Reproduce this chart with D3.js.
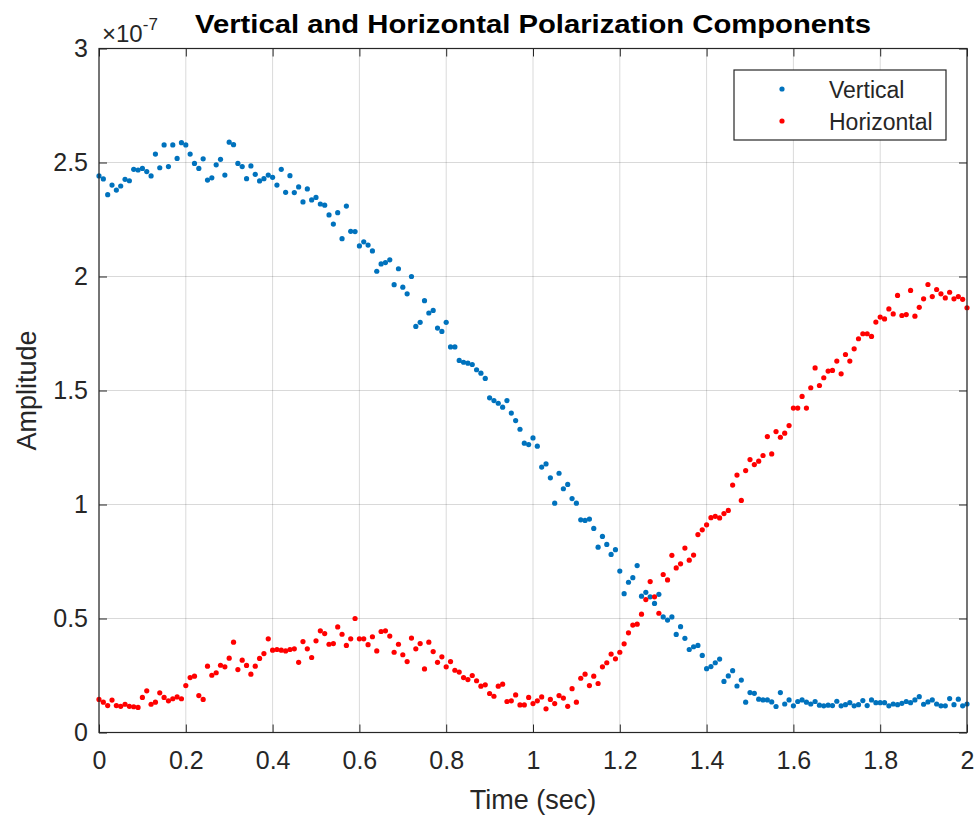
<!DOCTYPE html>
<html>
<head>
<meta charset="utf-8">
<script src="https://cdn.jsdelivr.net/npm/d3@7"></script>
<style>
    body { margin: 0; background: #fff; }
    text { font-family: "Liberation Sans", Arial, Helvetica, sans-serif; fill: #262626; }
    .grid line { stroke: #000; stroke-opacity: 0.15; stroke-width: 1; }
    .tick-label { font-size: 25px; }
    .axis-label { font-size: 27px; }
    .title { font-size: 26px; font-weight: bold; fill: #000; }
    .legend-label { font-size: 23px; }
</style>
</head>
<body>
<script>
// ============================================================
// Vertical and Horizontal Polarization Components
// MATLAB style scatter of two series sampled every 0.01 s
// Amplitudes are given in units of 1e-7
// ============================================================

// sample times 0 .. 2 s, step 0.01
var timeSec = d3.range(0, 201).map(function(i) { return i / 100; });

var vertical = [
    2.441, 2.428, 2.359, 2.401, 2.379, 2.397, 2.426, 2.420, 2.470, 2.467,
    2.474, 2.460, 2.441, 2.537, 2.477, 2.577, 2.482, 2.577, 2.518, 2.587,
    2.577, 2.537, 2.496, 2.474, 2.516, 2.423, 2.433, 2.490, 2.514, 2.445,
    2.589, 2.578, 2.496, 2.482, 2.429, 2.485, 2.448, 2.419, 2.429, 2.445,
    2.435, 2.401, 2.470, 2.369, 2.442, 2.368, 2.393, 2.327, 2.384, 2.336,
    2.347, 2.318, 2.313, 2.270, 2.230, 2.280, 2.166, 2.309, 2.198, 2.197,
    2.134, 2.152, 2.138, 2.112, 2.023, 2.055, 2.061, 2.073, 1.964, 2.034,
    1.953, 1.924, 2.000, 1.781, 1.799, 1.894, 1.840, 1.851, 1.774, 1.759,
    1.799, 1.691, 1.691, 1.632, 1.624, 1.620, 1.614, 1.591, 1.576, 1.553,
    1.468, 1.456, 1.444, 1.427, 1.456, 1.401, 1.368, 1.330, 1.269, 1.263,
    1.292, 1.256, 1.164, 1.178, 1.117, 1.006, 1.137, 1.069, 1.088, 1.026,
    1.006, 0.933, 0.930, 0.936, 0.895, 0.813, 0.860, 0.825, 0.781, 0.802,
    0.708, 0.609, 0.659, 0.679, 0.732, 0.598, 0.615, 0.595, 0.566, 0.606,
    0.507, 0.493, 0.507, 0.430, 0.464, 0.413, 0.364, 0.376, 0.382, 0.338,
    0.280, 0.289, 0.306, 0.322, 0.224, 0.248, 0.271, 0.204, 0.230, 0.133,
    0.175, 0.172, 0.146, 0.143, 0.143, 0.134, 0.114, 0.175, 0.125, 0.143,
    0.117, 0.136, 0.143, 0.133, 0.125, 0.136, 0.120, 0.117, 0.120, 0.118,
    0.137, 0.117, 0.122, 0.131, 0.117, 0.122, 0.140, 0.118, 0.143, 0.131,
    0.131, 0.131, 0.117, 0.125, 0.122, 0.128, 0.136, 0.131, 0.143, 0.157,
    0.124, 0.134, 0.143, 0.125, 0.117, 0.117, 0.149, 0.122, 0.146, 0.117,
    0.125
];

var horizontal = [
    0.145, 0.133, 0.118, 0.142, 0.118, 0.115, 0.124, 0.115, 0.113, 0.110,
    0.154, 0.183, 0.124, 0.133, 0.174, 0.154, 0.139, 0.148, 0.156, 0.148,
    0.206, 0.241, 0.247, 0.162, 0.145, 0.291, 0.251, 0.262, 0.295, 0.288,
    0.326, 0.396, 0.276, 0.317, 0.294, 0.256, 0.291, 0.325, 0.346, 0.411,
    0.361, 0.364, 0.361, 0.358, 0.364, 0.367, 0.308, 0.399, 0.367, 0.329,
    0.402, 0.446, 0.434, 0.387, 0.390, 0.463, 0.431, 0.382, 0.411, 0.500,
    0.411, 0.411, 0.385, 0.420, 0.358, 0.443, 0.446, 0.423, 0.352, 0.387,
    0.341, 0.311, 0.414, 0.367, 0.390, 0.279, 0.396, 0.355, 0.308, 0.332,
    0.288, 0.311, 0.273, 0.265, 0.241, 0.232, 0.250, 0.227, 0.203, 0.209,
    0.171, 0.159, 0.203, 0.212, 0.136, 0.139, 0.165, 0.121, 0.121, 0.154,
    0.127, 0.139, 0.156, 0.104, 0.145, 0.127, 0.162, 0.151, 0.115, 0.192,
    0.133, 0.238, 0.256, 0.206, 0.247, 0.215, 0.288, 0.306, 0.344, 0.323,
    0.352, 0.389, 0.437, 0.471, 0.475, 0.519, 0.583, 0.662, 0.595, 0.523,
    0.693, 0.669, 0.777, 0.722, 0.740, 0.809, 0.756, 0.778, 0.868, 0.889,
    0.911, 0.942, 0.948, 0.941, 0.960, 0.974, 1.085, 1.129, 1.018, 1.149,
    1.197, 1.175, 1.190, 1.215, 1.298, 1.222, 1.320, 1.295, 1.313, 1.346,
    1.423, 1.423, 1.474, 1.423, 1.512, 1.599, 1.522, 1.556, 1.585, 1.588,
    1.629, 1.573, 1.658, 1.629, 1.683, 1.727, 1.749, 1.749, 1.737, 1.800,
    1.822, 1.814, 1.858, 1.836, 1.917, 1.829, 1.833, 1.939, 1.826, 1.865,
    1.902, 1.965, 1.912, 1.943, 1.924, 1.906, 1.931, 1.902, 1.912, 1.900,
    1.863
];

var xTicks = [0, 0.2, 0.4, 0.6, 0.8, 1, 1.2, 1.4, 1.6, 1.8, 2];
var yTicks = [0, 0.5, 1, 1.5, 2, 2.5, 3];
var seriesNames = ["Vertical", "Horizontal"];
var seriesColors = ["#0072BD", "#FF0000"];

var w = 979, h = 821;
// plot box (window.top is read-only, so use own names)
var plotL = 99, plotR = 967, plotT = 48.5, plotB = 732.5;
var tickLen = 8;
var dotr = 2.6;

var svg = d3.select("body").append("svg")
    .attr("width", w)
    .attr("height", h);

var x = d3.scaleLinear().domain([0, 2]).range([plotL, plotR]);
var y = d3.scaleLinear().domain([0, 3]).range([plotB, plotT]);

// grid lines
var grid = svg.append("g").attr("class", "grid");
xTicks.forEach(function(t) {
    grid.append("line")
        .attr("x1", x(t)).attr("x2", x(t))
        .attr("y1", plotT).attr("y2", plotB);
});
yTicks.forEach(function(t) {
    grid.append("line")
        .attr("x1", plotL).attr("x2", plotR)
        .attr("y1", y(t)).attr("y2", y(t));
});

// data points
var allSeries = [vertical, horizontal];
allSeries.forEach(function(vals, s) {
    svg.append("g")
        .selectAll("circle")
        .data(vals)
        .enter().append("circle")
        .attr("cx", function(d, i) { return x(timeSec[i]); })
        .attr("cy", function(d) { return y(d); })
        .attr("r", dotr)
        .attr("fill", seriesColors[s]);
});

// axes: bottom/left with labels, top/right ticks only (box on)
var fmt = function(d) { return String(d); };
var axB = svg.append("g").attr("transform", "translate(0," + plotB + ")")
    .call(d3.axisBottom(x).tickValues(xTicks).tickFormat(fmt).tickSizeInner(-tickLen).tickSizeOuter(0).tickPadding(19));
var axL = svg.append("g").attr("transform", "translate(" + plotL + ",0)")
    .call(d3.axisLeft(y).tickValues(yTicks).tickFormat(fmt).tickSizeInner(-tickLen).tickSizeOuter(0).tickPadding(11));
var axT = svg.append("g").attr("transform", "translate(0," + plotT + ")")
    .call(d3.axisTop(x).tickValues(xTicks).tickFormat("").tickSizeInner(-tickLen).tickSizeOuter(0));
var axR = svg.append("g").attr("transform", "translate(" + plotR + ",0)")
    .call(d3.axisRight(y).tickValues(yTicks).tickFormat("").tickSizeInner(-tickLen).tickSizeOuter(0));

[axB, axL, axT, axR].forEach(function(a) {
    a.attr("font-size", null).attr("font-family", null);
    a.select(".domain").remove();
    a.selectAll("line").attr("stroke", "#262626");
    a.selectAll("text")
        .attr("class", "tick-label")
        .attr("fill", "#262626");
});

// axes box
svg.append("rect")
    .attr("x", plotL).attr("y", plotT)
    .attr("width", plotR - plotL).attr("height", plotB - plotT)
    .attr("fill", "none")
    .attr("stroke", "#262626")
    .attr("stroke-width", 1.2);

// exponent label
var expo = svg.append("text")
    .attr("x", plotL + 3)
    .attr("y", 42)
    .style("font-size", "24px");
expo.append("tspan").text("\u00d710");
expo.append("tspan").attr("dy", -12).style("font-size", "17px").text("-7");

// title
svg.append("text")
    .attr("class", "title")
    .attr("x", (plotL + plotR) / 2)
    .attr("y", 33)
    .attr("text-anchor", "middle")
    .attr("textLength", 676)
    .attr("lengthAdjust", "spacingAndGlyphs")
    .text("Vertical and Horizontal Polarization Components");

// axis labels
svg.append("text")
    .attr("class", "axis-label")
    .attr("x", (plotL + plotR) / 2)
    .attr("y", 809)
    .attr("text-anchor", "middle")
    .text("Time (sec)");

svg.append("text")
    .attr("class", "axis-label")
    .attr("transform", "translate(36," + (plotT + plotB) / 2 + ") rotate(-90)")
    .attr("text-anchor", "middle")
    .text("Amplitude");

// legend
var lx = 734, ly = 70, lw = 212, lh = 70;
svg.append("rect")
    .attr("x", lx).attr("y", ly)
    .attr("width", lw).attr("height", lh)
    .attr("fill", "#fff")
    .attr("stroke", "#262626")
    .attr("stroke-width", 1.2);

seriesNames.forEach(function(name, i) {
    var cy = ly + 19 + i * 32;
    svg.append("circle")
        .attr("cx", lx + 48)
        .attr("cy", cy)
        .attr("r", dotr)
        .attr("fill", seriesColors[i]);
    svg.append("text")
        .attr("class", "legend-label")
        .attr("x", lx + 95)
        .attr("y", cy + 9)
        .text(name);
});
</script>
</body>
</html>
